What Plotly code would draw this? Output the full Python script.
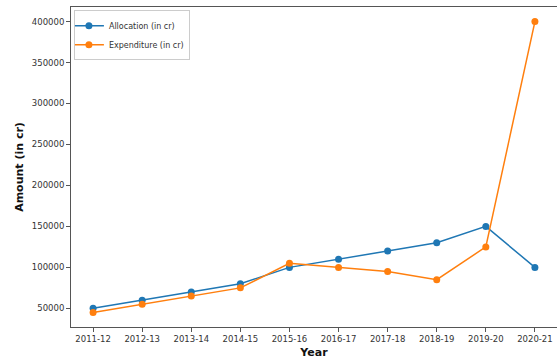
import plotly.graph_objects as go

years = ["2011-12", "2012-13", "2013-14", "2014-15", "2015-16",
         "2016-17", "2017-18", "2018-19", "2019-20", "2020-21"]
allocation = [50000, 60000, 70000, 80000, 100000, 110000, 120000, 130000, 150000, 100000]
expenditure = [45000, 55000, 65000, 75000, 105000, 100000, 95000, 85000, 125000, 400000]

font_family = "DejaVu Sans"

fig = go.Figure()
fig.add_trace(go.Scatter(x=years, y=allocation, mode="lines+markers",
                         name="Allocation (in cr)",
                         line=dict(color="#1f77b4", width=1.5),
                         marker=dict(color="#1f77b4", size=7)))
fig.add_trace(go.Scatter(x=years, y=expenditure, mode="lines+markers",
                         name="Expenditure (in cr)",
                         line=dict(color="#ff7f0e", width=1.5),
                         marker=dict(color="#ff7f0e", size=7)))

axis_common = dict(showline=True, mirror=True, linecolor="#555555", linewidth=1,
                   ticks="outside", ticklen=4, tickcolor="#555555", tickwidth=1,
                   showgrid=False, zeroline=False,
                   tickfont=dict(family=font_family, size=8.5, color="#333333"))

fig.update_layout(
    width=557, height=361,
    margin=dict(l=71, r=0, t=7, b=34),
    paper_bgcolor="white", plot_bgcolor="white",
    font=dict(family=font_family, color="#222222"),
    showlegend=True,
    legend=dict(x=0.006, y=0.99, xanchor="left", yanchor="top",
                bgcolor="rgba(255,255,255,0.8)", bordercolor="#cccccc", borderwidth=1,
                font=dict(family=font_family, size=8, color="#333333"),
                tracegroupgap=0, itemwidth=30, indentation=-6),
    xaxis=dict(**axis_common, type="category", range=[-0.45, 9.45],
               title=dict(text="<b>Year</b>", font=dict(family=font_family, size=11, color="#111111"),
                          standoff=5)),
    yaxis=dict(**axis_common, range=[27250, 417750], tickformat="d",
               tickvals=[50000, 100000, 150000, 200000, 250000, 300000, 350000, 400000],
               title=dict(text="<b>Amount (in cr)</b>", font=dict(family=font_family, size=11, color="#111111"),
                          standoff=5)),
)

fig.write_html("out.html")
